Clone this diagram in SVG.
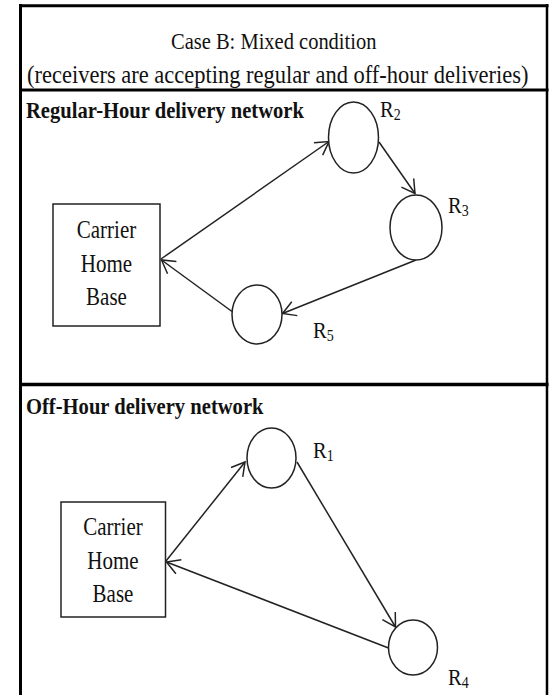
<svg xmlns="http://www.w3.org/2000/svg" width="549" height="695" viewBox="0 0 549 695">
  <style>
    .frame { stroke: #000; fill: none; }
    .title { font-family: "Liberation Serif", "Times New Roman", serif; fill: #111; }
    .section { font-family: "Liberation Serif", "Times New Roman", serif; font-weight: bold; font-size: 20.6px; fill: #111; }
    .boxtext { font-family: "Liberation Serif", "Times New Roman", serif; font-size: 21px; fill: #111; text-anchor: middle; }
    .lbl { font-family: "Liberation Serif", "Times New Roman", serif; font-size: 20.5px; fill: #111; }
    .sub { font-size: 14px; }
    .base { fill: #fff; stroke: #222; stroke-width: 1.5; }
    .stop { fill: #fff; stroke: #222; stroke-width: 1.5; }
    .edge { stroke: #222; stroke-width: 1.5; fill: none; marker-end: url(#arrow); }
  </style>
  <defs>
    <marker id="arrow" viewBox="-15 -9 17 18" refX="0" refY="0" markerWidth="17" markerHeight="18" markerUnits="userSpaceOnUse" orient="auto">
      <path d="M-13,-7.5 L0,0 L-13,7.5" fill="none" stroke="#222" stroke-width="1.5"/>
    </marker>
  </defs>

  <rect width="549" height="695" fill="#fff"/>

  <!-- outer frame and section dividers -->
  <g id="frame">
    <line class="frame" x1="20.5" y1="4" x2="20.5" y2="695" stroke-width="3"/>
    <line class="frame" x1="547" y1="4" x2="547" y2="695" stroke-width="2.5"/>
    <line class="frame" x1="19" y1="5.7" x2="548.5" y2="5.7" stroke-width="3"/>
    <line class="frame" x1="19" y1="90" x2="548.5" y2="90" stroke-width="3"/>
    <line class="frame" x1="19" y1="384.5" x2="548.5" y2="384.5" stroke-width="3.5"/>
  </g>

  <!-- heading -->
  <g id="heading" class="title">
    <text transform="translate(171,49) scale(1,1.15)" font-size="20.5">Case B: Mixed condition</text>
    <text transform="translate(27,83) scale(1,1.15)" font-size="22.5">(receivers are accepting regular and off-hour deliveries)</text>
  </g>

  <!-- section titles -->
  <g id="regular-title">
    <text class="section" transform="translate(26,118) scale(1,1.15)">Regular-Hour delivery network</text>
  </g>
  <g id="offhour-title">
    <text class="section" transform="translate(26,414) scale(1,1.15)">Off-Hour delivery network</text>
  </g>

  <!-- connectors -->
  <g id="connectors">
    <!-- regular-hour tour -->
    <line class="edge" x1="161" y1="259" x2="329" y2="141.5"/>
    <line class="edge" x1="379" y1="142" x2="415" y2="193.5"/>
    <line class="edge" x1="416" y1="260" x2="282.5" y2="313.5"/>
    <line class="edge" x1="232" y1="311.5" x2="161.5" y2="260"/>
    <!-- off-hour tour -->
    <line class="edge" x1="166" y1="561" x2="245" y2="462"/>
    <line class="edge" x1="297" y1="462" x2="395.5" y2="627"/>
    <line class="edge" x1="388.5" y1="648" x2="166.5" y2="562"/>
  </g>

  <!-- regular-hour network nodes -->
  <g id="base-regular">
    <rect class="base" x="53" y="204" width="107" height="122"/>
    <text class="boxtext" transform="translate(106.5,238) scale(1,1.15)">Carrier</text>
    <text class="boxtext" transform="translate(106.5,272) scale(1,1.15)">Home</text>
    <text class="boxtext" transform="translate(106.5,305) scale(1,1.15)">Base</text>
  </g>
  <g id="R2">
    <ellipse class="stop" cx="353.5" cy="137.5" rx="25" ry="35.5"/>
    <text class="lbl" transform="translate(380,117) scale(1,1.15)">R<tspan class="sub" dy="3">2</tspan></text>
  </g>
  <g id="R3">
    <ellipse class="stop" cx="416" cy="227.5" rx="26" ry="32.5"/>
    <text class="lbl" transform="translate(448,213) scale(1,1.15)">R<tspan class="sub" dy="3">3</tspan></text>
  </g>
  <g id="R5">
    <ellipse class="stop" cx="257" cy="314.5" rx="25" ry="29.5"/>
    <text class="lbl" transform="translate(313,338) scale(1,1.15)">R<tspan class="sub" dy="3">5</tspan></text>
  </g>

  <!-- off-hour network nodes -->
  <g id="base-offhour">
    <rect class="base" x="61" y="502" width="104.5" height="115"/>
    <text class="boxtext" transform="translate(113,535) scale(1,1.15)">Carrier</text>
    <text class="boxtext" transform="translate(113,569) scale(1,1.15)">Home</text>
    <text class="boxtext" transform="translate(113,602) scale(1,1.15)">Base</text>
  </g>
  <g id="R1">
    <ellipse class="stop" cx="271.5" cy="458" rx="24.5" ry="30"/>
    <text class="lbl" transform="translate(313,458) scale(1,1.15)">R<tspan class="sub" dy="3">1</tspan></text>
  </g>
  <g id="R4">
    <ellipse class="stop" cx="413" cy="647.5" rx="24.5" ry="27.5"/>
    <text class="lbl" transform="translate(448,685) scale(1,1.15)">R<tspan class="sub" dy="3">4</tspan></text>
  </g>
</svg>
